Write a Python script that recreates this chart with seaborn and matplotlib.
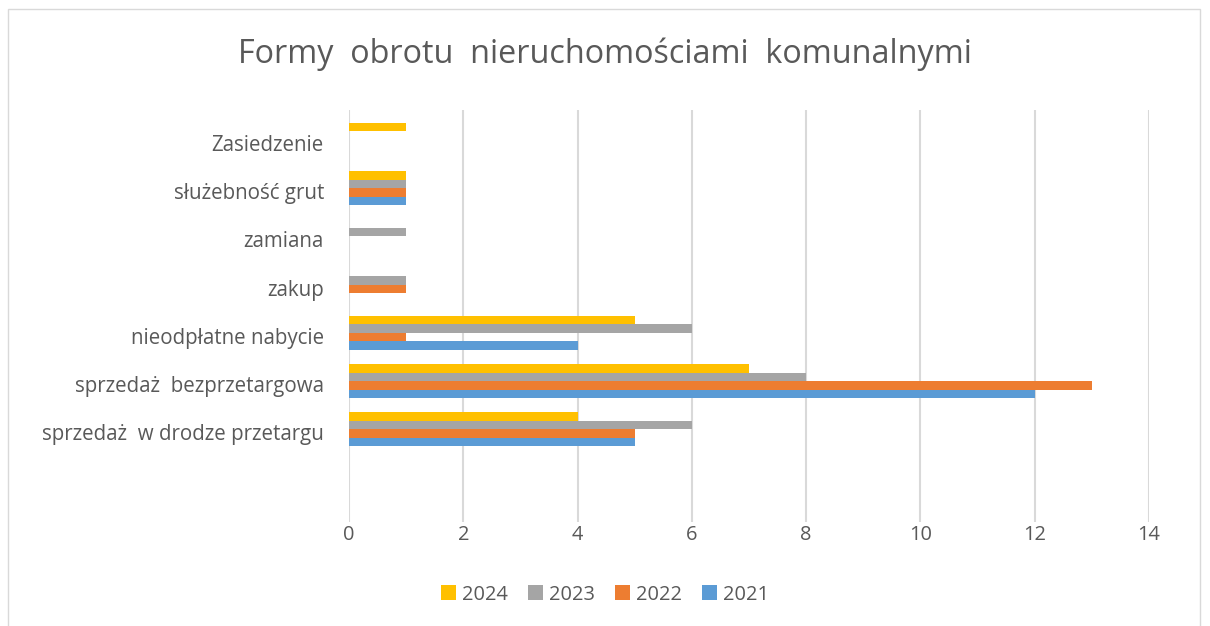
import matplotlib
matplotlib.use("Agg")
import matplotlib.pyplot as plt
import seaborn as sns
import pandas as pd
from matplotlib.patches import Rectangle

categories = ["Zasiedzenie", "służebność grut", "zamiana", "zakup",
              "nieodpłatne nabycie", "sprzedaż  bezprzetargowa",
              "sprzedaż  w drodze przetargu"]
years = ["2024", "2023", "2022", "2021"]
v2024 = [1, 1, 0, 0, 5, 7, 4]
v2023 = [0, 1, 1, 1, 6, 8, 6]
v2022 = [0, 1, 0, 1, 1, 13, 5]
v2021 = [0, 1, 0, 0, 4, 12, 5]
colors = ["#FFC000", "#A5A5A5", "#ED7D31", "#5B9BD5"]
xticks = [0, 2, 4, 6, 8, 10, 12, 14]

rows = []
for yr, vals in zip(years, [v2024, v2023, v2022, v2021]):
    for c, v in zip(categories, vals):
        rows.append({"kategoria": c, "rok": yr, "wartość": v})
df = pd.DataFrame(rows)

sns.set_theme(style="white")
plt.rcParams["font.family"] = ["Open Sans", "DejaVu Sans"]

fig = plt.figure(figsize=(12.1, 6.26), dpi=100)
ax = fig.add_axes([0.2884, 0.1661, 0.6612, 0.6582])

sns.barplot(data=df, y="kategoria", x="wartość", hue="rok", order=categories,
            hue_order=years, palette=colors, orient="h", width=0.7,
            ax=ax, legend=True, saturation=1, linewidth=0)

ax.set_xlim(0, 14)
ax.set_xticks(xticks)
ax.set_ylim(7 - 0.5 + 1.42, -0.62)
ax.set_xlabel("")
ax.set_ylabel("")
ax.grid(axis="x", color="#D9D9D9", linewidth=1.5)
ax.set_axisbelow(True)
for s in ax.spines.values():
    s.set_visible(False)
ax.tick_params(axis="x", colors="#595959", labelsize=14.4, length=0, pad=2)
ax.tick_params(axis="y", colors="#595959", labelsize=14.8, length=0, pad=18)
for lbl in ax.get_yticklabels():
    lbl.set_y(lbl.get_position()[1])
    lbl.set_transform(lbl.get_transform() + matplotlib.transforms.ScaledTranslation(0, -3 / 100, fig.dpi_scale_trans))

handles, labels = ax.get_legend_handles_labels()
ax.legend_.remove()
fig.legend(handles, labels, loc="center", bbox_to_anchor=(0.5, 0.05), ncol=4,
           frameon=False, fontsize=14.4, labelcolor="#595959",
           handlelength=0.75, handleheight=0.75, columnspacing=1.0,
           handletextpad=0.3)

fig.text(0.5, 0.914, "Formy  obrotu  nieruchomościami  komunalnymi",
         ha="center", va="center", fontsize=23.3, color="#595959")

fig.patches.append(Rectangle((0.007, -0.01), 0.985, 0.995,
                             transform=fig.transFigure, fill=False,
                             edgecolor="#D9D9D9", linewidth=1))

fig.savefig("out.png", dpi=100)
